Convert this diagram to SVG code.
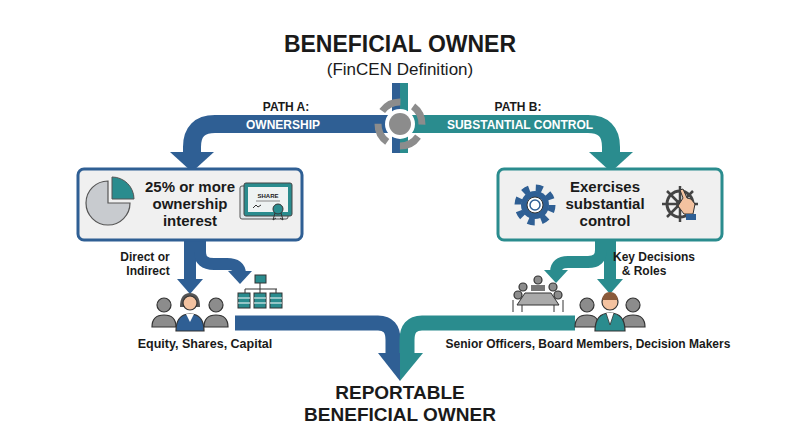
<svg xmlns="http://www.w3.org/2000/svg" width="800" height="447" viewBox="0 0 800 447">
<style>
.t{font-family:"Liberation Sans",Arial,sans-serif;fill:#1a1a1a;text-anchor:middle}
.b{font-weight:bold}
.bl{fill:none;stroke:#2f5f94}
.tl{fill:none;stroke:#2a8c8e}
.gy{fill:#8c8c8c}
.ic{stroke:#333;stroke-width:1.2}
</style>
<rect width="800" height="447" fill="#fff"/>
<text class="t b" x="400" y="52" font-size="23">BENEFICIAL OWNER</text>
<text class="t" x="400" y="75" font-size="17">(FinCEN Definition)</text>

<g id="connectors">
<path class="bl" d="M396 124 H215 Q192 124 192 147 V153" stroke-width="18"/>
<polygon points="170,152 214,152 192,172" fill="#2f5f94"/>
<path class="tl" d="M404 124 H588 Q611 124 611 147 V153" stroke-width="18"/>
<polygon points="589,152 633,152 611,172" fill="#2a8c8e"/>
<rect x="392" y="83" width="8" height="70" fill="#2f5f94"/>
<rect x="400" y="83" width="8" height="70" fill="#2a8c8e"/>
<circle cx="400" cy="124" r="22" fill="none" stroke="#8c8c8c" stroke-width="7" stroke-dasharray="21 13.55" transform="rotate(35 400 124)"/>
<circle cx="400" cy="124" r="15" fill="#fff"/>
<circle cx="400" cy="124" r="11" fill="#8c8c8c"/>
<text class="t b" x="286" y="111" font-size="12">PATH A:</text>
<text class="t b" x="283" y="129" font-size="12" style="fill:#fff">OWNERSHIP</text>
<text class="t b" x="518" y="111" font-size="12">PATH B:</text>
<text class="t b" x="520" y="129" font-size="12" style="fill:#fff">SUBSTANTIAL CONTROL</text>

<path class="bl" d="M190 240 V282" stroke-width="12"/>
<polygon points="177,279 203,279 190,294" fill="#2f5f94"/>
<path class="bl" d="M200 240 V252 Q200 264 214 264 H227 Q240 264 240 274" stroke-width="12"/>
<polygon points="228,271 252,271 240,284" fill="#2f5f94"/>
<path class="tl" d="M610 240 V282" stroke-width="12"/>
<polygon points="597,279 623,279 610,294" fill="#2a8c8e"/>
<path class="tl" d="M601 240 V250 Q601 262 588 262 H568 Q556 262 556 272" stroke-width="12"/>
<polygon points="544,270 568,270 556,283" fill="#2a8c8e"/>

<path class="bl" d="M235 323 H378 Q393 323 393 340 V355" stroke-width="15"/>
<path class="tl" d="M575 323 H422 Q407 323 407 340 V355" stroke-width="15"/>
<polygon points="378,353 400,353 400,381" fill="#2f5f94"/>
<polygon points="400,353 423,353 400,381" fill="#2a8c8e"/>
</g>

<g id="box-ownership">
<rect x="78" y="169" width="224" height="71" rx="6" fill="#f0f0f0" stroke="#2f5f94" stroke-width="3"/>
<path d="M108 181 A22 22 0 1 0 130 203 H108 Z" fill="#c8cbcf" stroke="#555" stroke-width="1.2"/>
<path d="M112 177 A22 22 0 0 1 134 199 H112 Z" fill="#2a8c8e" stroke="#555" stroke-width="1"/>
<text class="t b" x="190" y="192" font-size="15">25% or more</text>
<text class="t b" x="190" y="209" font-size="15">ownership</text>
<text class="t b" x="190" y="226" font-size="15">interest</text>
<rect x="240" y="186" width="48" height="33" rx="2" fill="#dfe6e9" stroke="#555"/>
<rect x="244" y="183" width="48" height="33" rx="2" fill="#2a8c8e" stroke="#444"/>
<rect x="248" y="187" width="40" height="25" fill="#eef3f3"/>
<text class="t b" x="268" y="198" font-size="6">SHARE</text>
<line x1="256" y1="201" x2="280" y2="201" stroke="#888"/>
<path d="M253 208 l3 -3 l2 2 l3 -2" fill="none" stroke="#333"/>
<circle cx="278" cy="209" r="5" fill="#2a8c8e" stroke="#333"/>
<path d="M275 213 l-2 7 l3 -2 M281 213 l2 7 l-3 -2" fill="none" stroke="#333"/>
</g>

<g id="box-control">
<rect x="498" y="169" width="224" height="71" rx="6" fill="#f0f0f0" stroke="#2a8c8e" stroke-width="3"/>
<circle cx="535" cy="205" r="17" fill="none" stroke="#2f5f94" stroke-width="7" stroke-dasharray="6.7 6.7"/>
<circle cx="535" cy="205" r="14" fill="#2f5f94"/>
<circle cx="535" cy="205" r="8" fill="#fff" stroke="#333"/>
<circle cx="535" cy="205" r="5" fill="none" stroke="#2f5f94" stroke-width="1.5"/>
<text class="t b" x="605" y="192" font-size="15">Exercises</text>
<text class="t b" x="605" y="209" font-size="15">substantial</text>
<text class="t b" x="605" y="226" font-size="15">control</text>
<circle cx="680" cy="204" r="13" fill="none" stroke="#444" stroke-width="3"/>
<path d="M680 186 V222 M662 204 H698 M667 191 L693 217 M693 191 L667 217" stroke="#444" stroke-width="2.5"/>
<circle cx="680" cy="204" r="4" fill="#444"/>
<path d="M683 198 l-3 -8 l3 -1 l4 9 l4 1 l4 5 l-2 10 l-9 0 l-6 -8 z" fill="#f3c2a0" stroke="#333"/>
<rect x="686" y="214" width="10" height="6" fill="#2f5f94"/>
</g>

<g id="labels-left">
<text class="t b" x="145" y="261" font-size="12">Direct or</text>
<text class="t b" x="148" y="275" font-size="12">Indirect</text>
<text class="t b" x="205" y="348" font-size="12.5">Equity, Shares, Capital</text>
</g>
<g id="people-owners">
<circle cx="164" cy="305" r="7" class="gy ic"/>
<path d="M152 327 Q152 315 164 315 Q176 315 176 327 Z" class="gy ic"/>
<circle cx="216" cy="305" r="7" class="gy ic"/>
<path d="M204 327 Q204 315 216 315 Q228 315 228 327 Z" class="gy ic"/>
<path d="M180 307 Q180 293 190 293 Q200 293 200 307 Z" fill="#555"/>
<circle cx="190" cy="303" r="7" fill="#f3c2a0" class="ic"/>
<path d="M176 331 Q176 314 190 314 Q204 314 204 331 Z" fill="#2f5f94" class="ic"/>
<path d="M186 314 L190 322 L194 314" fill="#fff"/>
</g>
<g id="orgchart">
<rect x="255" y="275" width="11" height="8" fill="#2a8c8e" stroke="#333"/>
<path d="M260 283 V289 M245 289 H277 M245 289 V293 M260 289 V293 M276 289 V293" stroke="#333" fill="none"/>
<rect x="238" y="293" width="12" height="15" fill="#2a8c8e" stroke="#333"/>
<rect x="254" y="293" width="12" height="15" fill="#2a8c8e" stroke="#333"/>
<rect x="270" y="293" width="12" height="15" fill="#2a8c8e" stroke="#333"/>
<path d="M238 298 h12 M238 303 h12 M254 298 h12 M254 303 h12 M270 298 h12 M270 303 h12" stroke="#fff"/>
</g>

<g id="labels-right">
<text class="t b" x="654" y="261" font-size="12">Key Decisions</text>
<text class="t b" x="644" y="275" font-size="12">&amp; Roles</text>
<text class="t b" x="588" y="348" font-size="12">Senior Officers, Board Members, Decision Makers</text>
</g>
<g id="meeting">
<circle cx="538" cy="280" r="4" class="gy ic"/>
<circle cx="523" cy="287" r="4" class="gy ic"/>
<circle cx="553" cy="287" r="4" class="gy ic"/>
<circle cx="518" cy="295" r="4" class="gy ic"/>
<circle cx="558" cy="295" r="4" class="gy ic"/>
<rect x="531" y="285" width="14" height="6" fill="#777"/>
<polygon points="525,293 551,293 559,305 517,305" fill="#aaa" stroke="#333"/>
<path d="M513 300 V312 M563 300 V312 M522 305 V312 M554 305 V312" stroke="#333"/>
</g>
<g id="people-officers">
<circle cx="587" cy="305" r="7" class="gy ic"/>
<path d="M575 327 Q575 315 587 315 Q599 315 599 327 Z" class="gy ic"/>
<circle cx="633" cy="305" r="7" class="gy ic"/>
<path d="M621 327 Q621 315 633 315 Q645 315 645 327 Z" class="gy ic"/>
<circle cx="610" cy="302" r="8" fill="#f3c2a0" class="ic"/>
<path d="M602 300 Q603 292 610 292 Q617 292 618 300 Z" fill="#8a5a3a"/>
<path d="M595 331 Q595 313 610 313 Q625 313 625 331 Z" fill="#2a8c8e" class="ic"/>
<path d="M606 313 L610 325 L614 313" fill="#fff" stroke="#333" stroke-width="0.8"/>
</g>

<g id="result">
<text class="t b" x="400" y="399" font-size="19">REPORTABLE</text>
<text class="t b" x="400" y="421" font-size="19">BENEFICIAL OWNER</text>
</g>
</svg>
